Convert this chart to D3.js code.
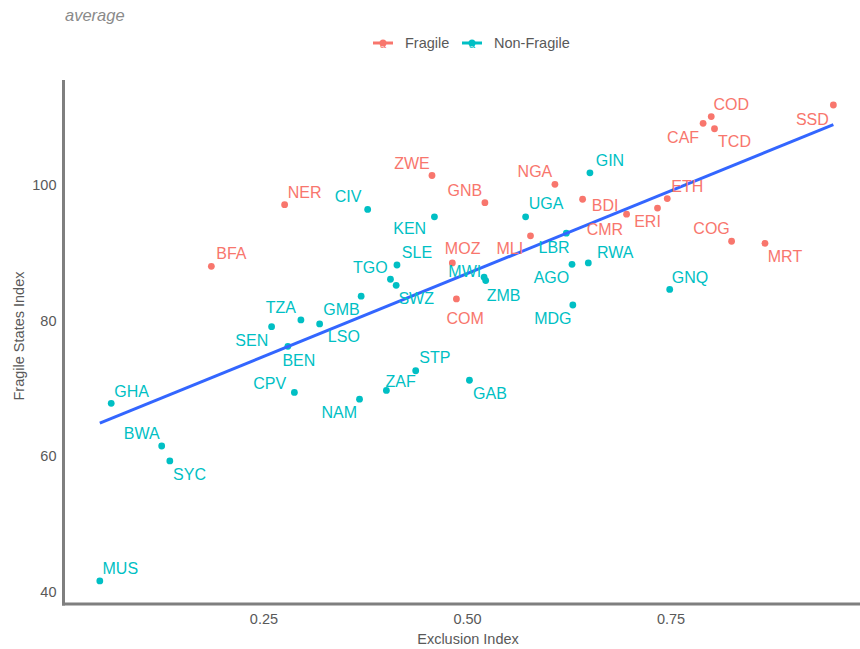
<!DOCTYPE html>
<html>
<head>
<meta charset="utf-8">
<script src="https://cdn.jsdelivr.net/npm/d3@7"></script>
<style>
  body { margin: 0; background: #fff; }
  svg { display: block; }
  text { font-family: "Liberation Sans", Arial, Helvetica, sans-serif; }
</style>
</head>
<body>
<svg id="chart" width="860" height="649"></svg>
<script>
// ---- data ----
const countries = ["COD","CAF","TCD","SSD","ETH","ERI","COG","MRT","ZWE","NGA","GNB","BDI","CMR","MLI","MOZ","COM","NER","BFA",
  "GIN","CIV","KEN","UGA","LBR","SLE","TGO","SWZ","GMB","MWI","ZMB","AGO","RWA","MDG","GNQ","TZA","LSO","SEN","BEN","CPV","NAM","ZAF","STP","GAB","GHA","BWA","SYC","MUS"];
const groups = ["Fragile","Fragile","Fragile","Fragile","Fragile","Fragile","Fragile","Fragile","Fragile","Fragile","Fragile","Fragile","Fragile","Fragile","Fragile","Fragile","Fragile","Fragile",
  "Non-Fragile","Non-Fragile","Non-Fragile","Non-Fragile","Non-Fragile","Non-Fragile","Non-Fragile","Non-Fragile","Non-Fragile","Non-Fragile","Non-Fragile","Non-Fragile","Non-Fragile","Non-Fragile","Non-Fragile","Non-Fragile","Non-Fragile","Non-Fragile","Non-Fragile","Non-Fragile","Non-Fragile","Non-Fragile","Non-Fragile","Non-Fragile","Non-Fragile","Non-Fragile","Non-Fragile","Non-Fragile"];
const exclusionIndex = [0.800,0.790,0.804,0.950,0.746,0.734,0.825,0.866,0.457,0.608,0.522,0.642,0.696,0.578,0.482,0.487,0.276,0.186,
  0.651,0.378,0.460,0.572,0.622,0.414,0.406,0.413,0.370,0.521,0.523,0.629,0.649,0.630,0.749,0.296,0.319,0.260,0.280,0.288,0.368,0.401,0.437,0.503,0.063,0.125,0.135,0.049];
const fragileStatesIndex = [110.1,109.1,108.3,111.8,98.0,96.6,91.7,91.4,101.4,100.1,97.4,97.9,95.7,92.5,88.5,83.2,97.1,88.0,
  101.8,96.4,95.3,95.3,92.9,88.2,86.1,85.2,83.6,86.4,85.9,88.3,88.5,82.3,84.6,80.1,79.5,79.1,76.2,69.4,68.4,69.7,72.6,71.2,67.8,61.5,59.3,41.6];
const groupNames = ["Fragile","Non-Fragile"];
const xTicks = [0.25, 0.50, 0.75];
const yTicks = [40, 60, 80, 100];
const subtitle = "average";
const xTitle = "Exclusion Index";
const yTitle = "Fragile States Index";

// label offsets (px) relative to each point, as placed by the repel layout
const labelNudge = [[20,-12],[-20,14],[20,13],[-21,14],[20,-12],[-10,13.5],[-20,-13],[20,13.5],[-20,-12.4],[-20,-12.5],[-20,-12],[22.5,6],[-21.7,15],[-20.7,12.8],[10.3,-15],[8.8,19.2],[20,-12.2],[20,-12.5],
  [20,-12],[-19.6,-12.6],[-24.7,12],[20.5,-13],[-12.2,14.2],[20,-12.8],[-20.2,-12.2],[20,12.6],[-19.7,13.5],[-19.3,-6],[17.8,14.5],[-20.6,13.2],[27,-10.5],[-20,13],[20.3,-12.3],[-20,-12.2],[24.2,12.9],[-19.8,13.3],[11,13.6],[-24.7,-9],[-20.3,13.5],[14.3,-9],[19.2,-13],[20.5,13],[20.5,-11.8],[-20,-12.2],[19.7,14],[20.5,-12.2]];

// ---- chart ----
const svg = d3.select("#chart");
const colors = d3.scaleOrdinal().domain(groupNames).range(["#F8766D", "#00BFC4"]);
const x = d3.scaleLinear().domain([0.0044, 0.995]).range([63.5, 870]);
const y = d3.scaleLinear().domain([38.19, 115.49]).range([604, 80]);

const data = countries.map((c, i) => ({ c, g: groups[i], x: exclusionIndex[i], y: fragileStatesIndex[i], n: labelNudge[i] }));

// subtitle
svg.append("text").attr("x", 65).attr("y", 20.5).attr("font-size", 16.5)
  .attr("font-style", "italic").attr("fill", "#8a8a8a").text(subtitle);

// legend
const legend = svg.append("g");
const legendItems = [{ g: "Fragile", kx: 383, tx: 405 }, { g: "Non-Fragile", kx: 472, tx: 494 }];
legendItems.forEach(it => {
  const col = colors(it.g);
  legend.append("line").attr("x1", it.kx - 10).attr("x2", it.kx + 10).attr("y1", 43).attr("y2", 43)
    .attr("stroke", col).attr("stroke-width", 3);
  legend.append("circle").attr("cx", it.kx).attr("cy", 43).attr("r", 3.5).attr("fill", col);
  legend.append("text").attr("x", it.kx).attr("y", 48).attr("text-anchor", "middle")
    .attr("font-size", 11).attr("fill", col).text("a");
  legend.append("text").attr("x", it.tx).attr("y", 43).attr("dy", "0.35em")
    .attr("font-size", 14.5).attr("fill", "#595959").text(it.g);
});

// axes (lines only, no ticks)
const xAxis = d3.axisBottom(x).tickValues(xTicks).tickFormat(d3.format(".2f")).tickSize(0).tickPadding(10);
const yAxis = d3.axisLeft(y).tickValues(yTicks).tickSize(0).tickPadding(7);
const gx = svg.append("g").attr("transform", "translate(0,604)").call(xAxis);
const gy = svg.append("g").attr("transform", "translate(63.5,0)").call(yAxis);
[gx, gy].forEach(g => {
  g.select(".domain").remove();
  g.selectAll("text").attr("font-size", 14.5).attr("fill", "#595959")
    .attr("font-family", "'Liberation Sans', Arial, sans-serif");
});
svg.append("line").attr("x1", 63.5).attr("x2", 63.5).attr("y1", 80).attr("y2", 605.5)
  .attr("stroke", "#7f7f7f").attr("stroke-width", 3);
svg.append("line").attr("x1", 62).attr("x2", 870).attr("y1", 604).attr("y2", 604)
  .attr("stroke", "#7f7f7f").attr("stroke-width", 3);

// axis titles
svg.append("text").attr("x", 468).attr("y", 644).attr("text-anchor", "middle")
  .attr("font-size", 14.5).attr("fill", "#595959").text(xTitle);
svg.append("text").attr("transform", "translate(24,336) rotate(-90)").attr("text-anchor", "middle")
  .attr("font-size", 14.5).attr("fill", "#595959").text(yTitle);

// points
svg.append("g").selectAll("circle").data(data).join("circle")
  .attr("cx", d => x(d.x)).attr("cy", d => y(d.y)).attr("r", 3.4)
  .attr("fill", d => colors(d.g));

// linear regression fit
const mx = d3.mean(data, d => d.x), my = d3.mean(data, d => d.y);
const slope = d3.sum(data, d => (d.x - mx) * (d.y - my)) / d3.sum(data, d => (d.x - mx) ** 2);
const icpt = my - slope * mx;
const [x0, x1] = d3.extent(data, d => d.x);
svg.append("path")
  .attr("d", d3.line()([[x(x0), y(icpt + slope * x0)], [x(x1), y(icpt + slope * x1)]]))
  .attr("stroke", "#3366FF").attr("stroke-width", 3).attr("fill", "none");

// labels
svg.append("g").selectAll("text").data(data).join("text")
  .attr("x", d => x(d.x) + d.n[0]).attr("y", d => y(d.y) + d.n[1]).attr("dy", "0.35em")
  .attr("text-anchor", "middle").attr("font-size", 16)
  .attr("fill", d => colors(d.g)).text(d => d.c);
</script>
</body>
</html>
